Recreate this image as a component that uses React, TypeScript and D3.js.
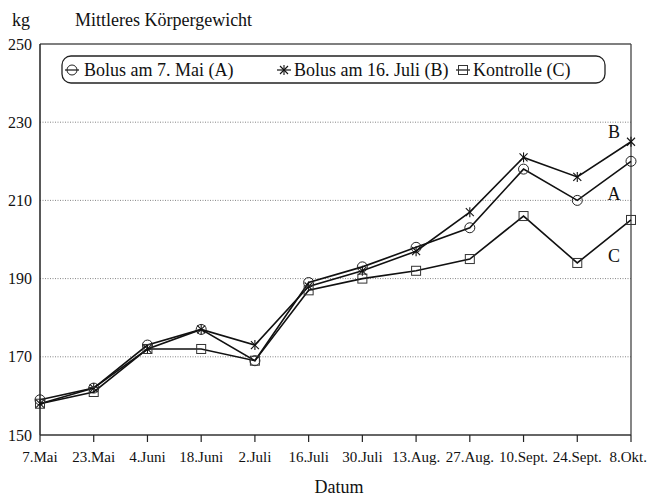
import React from "react";
import * as d3 from "d3";

const dates = ["7.Mai", "23.Mai", "4.Juni", "18.Juni", "2.Juli", "16.Juli", "30.Juli", "13.Aug.", "27.Aug.", "10.Sept.", "24.Sept.", "8.Okt."];
const seriesA = [159, 162, 173, 177, 169, 189, 193, 198, 203, 218, 210, 220];
const seriesB = [158, 162, 172, 177, 173, 188, 192, 197, 207, 221, 216, 225];
const seriesC = [158, 161, 172, 172, 169, 187, 190, 192, 195, 206, 194, 205];
const yTicks = [150, 170, 190, 210, 230, 250];
const gridTicks = [170, 190, 210, 230];
const legendLabels = ["Bolus am 7. Mai (A)", "Bolus am 16. Juli (B)", "Kontrolle (C)"];
const endLabels = ["A", "B", "C"];

const FONT = "Liberation Serif, DejaVu Serif, serif";

function T(props: any) {
  const { style, ...rest } = props;
  return <text {...rest} style={{ fontFamily: FONT, ...(style || {}) }} />;
}

function Marker({ type, x, y }: { type: string; x: number; y: number }) {
  if (type === "circle") {
    return <circle cx={x} cy={y} r={5} fill="none" stroke="#222" strokeWidth={1} />;
  }
  if (type === "square") {
    return <rect x={x - 4.5} y={y - 4.5} width={9} height={9} fill="none" stroke="#333" strokeWidth={1} />;
  }
  const s = 4;
  return (
    <g stroke="#111" strokeWidth={1.1}>
      <line x1={x - s} y1={y - s} x2={x + s} y2={y + s} />
      <line x1={x - s} y1={y + s} x2={x + s} y2={y - s} />
      <line x1={x} y1={y - s - 1} x2={x} y2={y + s + 1} />
    </g>
  );
}

export default function App() {
  const W = 649;
  const H = 497;
  const left = 40;
  const right = 631;
  const top = 44;
  const bottom = 435;

  const x = d3.scalePoint<string>().domain(dates).range([left, right]);
  const y = d3.scaleLinear().domain([150, 250]).range([bottom, top]);

  const line = d3
    .line<number>()
    .x((_, i) => x(dates[i]) as number)
    .y((d) => y(d));

  const series = [
    { vals: seriesA, marker: "circle" },
    { vals: seriesB, marker: "star" },
    { vals: seriesC, marker: "square" },
  ];

  const lastX = x(dates[dates.length - 1]) as number;
  const endPos = [
    { label: endLabels[0], y: y(seriesA[11]) + 32 },
    { label: endLabels[1], y: y(seriesB[11]) - 10 },
    { label: endLabels[2], y: y(seriesC[11]) + 36 },
  ];

  const legendItems = [
    { marker: "circle", mx: 72, tx: 84, label: legendLabels[0] },
    { marker: "star", mx: 284, tx: 294, label: legendLabels[1] },
    { marker: "square", mx: 463, tx: 473, label: legendLabels[2] },
  ];

  return (
    <svg
      width={W}
      height={H}
      style={{ position: "absolute", left: 0, top: 0, background: "#fff" }}
    >
      <rect x={0} y={0} width={W} height={H} fill="#fff" />
      <T x={12} y={26} fontSize={18} fill="#111">kg</T>
      <T x={75} y={26} fontSize={18} fill="#111">Mittleres Körpergewicht</T>

      {gridTicks.map((t) => (
        <line
          key={t}
          x1={left}
          x2={right}
          y1={y(t)}
          y2={y(t)}
          stroke="#777"
          strokeWidth={0.9}
          strokeDasharray="1,1.5"
        />
      ))}

      <line x1={left} x2={right} y1={top} y2={top} stroke="#555" strokeWidth={1.5} />
      <line x1={right} x2={right} y1={top} y2={bottom} stroke="#444" strokeWidth={1.3} />
      <line x1={left} x2={left} y1={top} y2={bottom} stroke="#222" strokeWidth={1.5} />
      <line x1={left} x2={right} y1={bottom} y2={bottom} stroke="#333" strokeWidth={1.5} />

      {yTicks.map((t) => (
        <T key={t} x={32} y={y(t)} dy="0.35em" textAnchor="end" fontSize={16} fill="#111">
          {t}
        </T>
      ))}

      {dates.map((d, i) => (
        <g key={d}>
          <line
            x1={x(d) as number}
            x2={x(d) as number}
            y1={bottom}
            y2={bottom + 7}
            stroke="#222"
            strokeWidth={1.2}
          />
          <T
            x={i === dates.length - 1 ? 647 : (x(d) as number)}
            y={462}
            textAnchor={i === dates.length - 1 ? "end" : "middle"}
            fontSize={15}
            fill="#111"
          >
            {d}
          </T>
        </g>
      ))}
      <T x={339} y={493} textAnchor="middle" fontSize={18} fill="#111">
        Datum
      </T>

      {series.map((s, si) => (
        <g key={si}>
          <path d={line(s.vals) || ""} fill="none" stroke="#111" strokeWidth={1.6} />
          {s.vals.map((v, i) => (
            <Marker key={i} type={s.marker} x={x(dates[i]) as number} y={y(v)} />
          ))}
        </g>
      ))}

      {endPos.map((e) => (
        <T key={e.label} x={lastX - 17} y={e.y} dy="0.35em" textAnchor="middle" fontSize={18} fill="#111">
          {e.label}
        </T>
      ))}

      <rect x={62} y={56} width={543} height={27} rx={9} ry={9} fill="#fff" stroke="#222" strokeWidth={1.3} />
      {legendItems.map((it) => (
        <g key={it.label}>
          <line x1={it.mx - 7} x2={it.mx + 7} y1={70} y2={70} stroke="#111" strokeWidth={1.2} />
          <Marker type={it.marker} x={it.mx} y={70} />
          <T x={it.tx} y={76} fontSize={18} fill="#111">
            {it.label}
          </T>
        </g>
      ))}
    </svg>
  );
}
